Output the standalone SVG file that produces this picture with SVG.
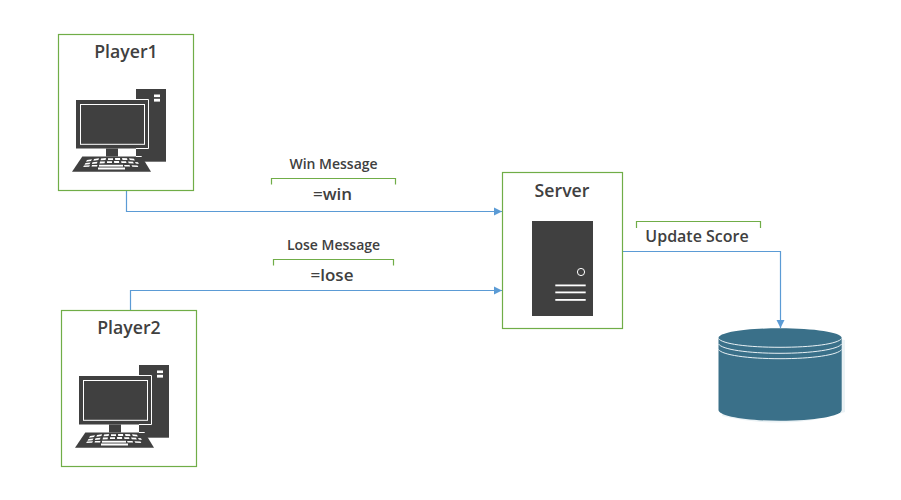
<svg xmlns="http://www.w3.org/2000/svg" width="901" height="500" viewBox="0 0 901 500">
<style>
text{font-family:"Open Sans","Noto Sans","DejaVu Sans",sans-serif;font-weight:600;fill:#404040;text-anchor:middle}
.t{font-size:17.700px}
.u{font-size:16px}
.s{font-size:14px}
.m{font-size:17px}
.box{fill:#fff;stroke:#70AD47;stroke-width:1.2}
.br{fill:none;stroke:#70AD47;stroke-width:1.2}
.c{fill:none;stroke:#5B9BD5;stroke-width:1.2}
.d{fill:#404040}
.w{fill:none;stroke:#fff;stroke-width:1}
.wf{fill:#fff}
</style>
<defs>
<marker id="a" markerUnits="userSpaceOnUse" markerWidth="9" markerHeight="9" refX="8" refY="4.500" orient="auto"><path d="M0 .5L8 4.500L0 8.500Z" fill="#5B9BD5"/></marker>
<g id="pc">
<rect class="d" x="136" y="89" width="30" height="72.700"/>
<rect class="wf" x="154" y="94.500" width="6" height="2.600"/>
<rect class="wf" x="154" y="98.800" width="6" height="2.800"/>
<rect class="d" x="76" y="100" width="72.500" height="48.500"/>
<path class="w" d="M136 99.500H148.500V148.500H136"/>
<rect class="w" x="80.500" y="104.500" width="64" height="39.800"/>
<rect class="d" x="106" y="148.500" width="12" height="8"/>
<path class="d" d="M82.300 156.500H141.700L151 171.700H72Z"/>
<path class="w" d="M136 156.500H141.700"/>
<g class="wf">
<path d="M87 160l5-.8-1 1.800-5 .8zM94 159l5-.8-.6 1.800-5 .8zM101 158.500l5-.4-.4 1.800-5 .4zM108 158.300h5v1.800h-5zM115 158.100h5l.2 1.800h-5zM122 158.100l5 .2.5 1.800-5-.2zM129 158.300l5 .4.8 1.800-5-.4z"/>
<path d="M85.500 163l5-.6-1 1.800-5 .6zM92.500 162.200l5-.4-.6 1.800-5 .4zM100 161.600l5-.2-.4 1.800-5 .2zM107 161.200h5v1.800h-5zM114 161.100h5l.2 1.800h-5zM121 161.200l5 .1.5 1.800-5-.1zM128 161.500l5 .3.8 1.800-5-.3zM135 162l3 .3.8 1.600-3-.3z"/>
<path d="M84 165.500l6-.3-.8 1.600-6 .3zM92 165h5.500l-.5 1.600h-5.500zM124 165h5.500l.7 1.600h-5.500zM131.500 165.200l6 .3.8 1.600-6-.3z"/>
<rect x="98" y="167.500" width="27" height="2"/>
<rect x="99" y="164.800" width="24" height="1.800"/>
</g>
</g>
</defs>
<g id="connectors">
<path class="c" d="M126.500 190.500V211.500H502" marker-end="url(#a)"/>
<path class="c" d="M130.500 310V290.500H502" marker-end="url(#a)"/>
<path class="c" d="M622.500 251.500H780.500V328" marker-end="url(#a)"/>
</g>
<g id="player1">
<rect class="box" x="58.500" y="34.500" width="135" height="156"/>
<text class="t" x="126" y="58">Player1</text>
<use href="#pc"/>
</g>
<g id="player2">
<rect class="box" x="61.500" y="310.500" width="135" height="156"/>
<text class="t" x="129" y="334">Player2</text>
<use href="#pc" x="3" y="276"/>
</g>
<g id="server">
<rect class="box" x="502.500" y="172.500" width="120" height="156"/>
<text class="t" x="562" y="196.500">Server</text>
<rect class="d" x="532" y="221" width="61" height="95"/>
<circle cx="581" cy="272" r="3.600" fill="none" stroke="#fff" stroke-width="1"/>
<rect class="wf" x="555.300" y="284.500" width="30.400" height="1.800"/>
<rect class="wf" x="555.300" y="291.500" width="30.400" height="1.800"/>
<rect class="wf" x="555.300" y="299" width="30.400" height="1.800"/>
</g>
<g id="win-message">
<text class="s" x="333.500" y="168.500">Win Message</text>
<path class="br" d="M271.500 184.500V178.500H395.500V184.500"/>
<text class="m" x="332.500" y="199.500">=win</text>
</g>
<g id="lose-message">
<text class="s" x="333.500" y="249.500">Lose Message</text>
<path class="br" d="M273.500 265.500V259.500H393.500V265.500"/>
<text class="m" x="332" y="280.500">=lose</text>
</g>
<g id="update-score">
<path class="br" d="M636.500 228V221.500H760.500V228"/>
<text class="u" x="697" y="241.500">Update Score</text>
</g>
<g id="database">
<path d="M730 335Q790 327 845 340V412Q790 431 722 416Z" fill="#e3ecf1" opacity=".7"/>
<path d="M718.500 338C718.500 332.500 746 328.300 780 328.300S841.700 332.500 841.700 338V410C841.700 416 814 420.800 780 420.800S718.500 416 718.500 410Z" fill="#3A7089"/>
<path d="M718.500 338.500C722 344 748 347.300 780 347.300S838 344 841.700 338.500M718.500 344C722 349.500 748 353.300 780 353.300S838 349.500 841.700 344M718.500 349.500C722 355 748 358.700 780 358.700S838 355 841.700 349.500" fill="none" stroke="#e8f0f4" stroke-width="1"/>
</g>
</svg>
